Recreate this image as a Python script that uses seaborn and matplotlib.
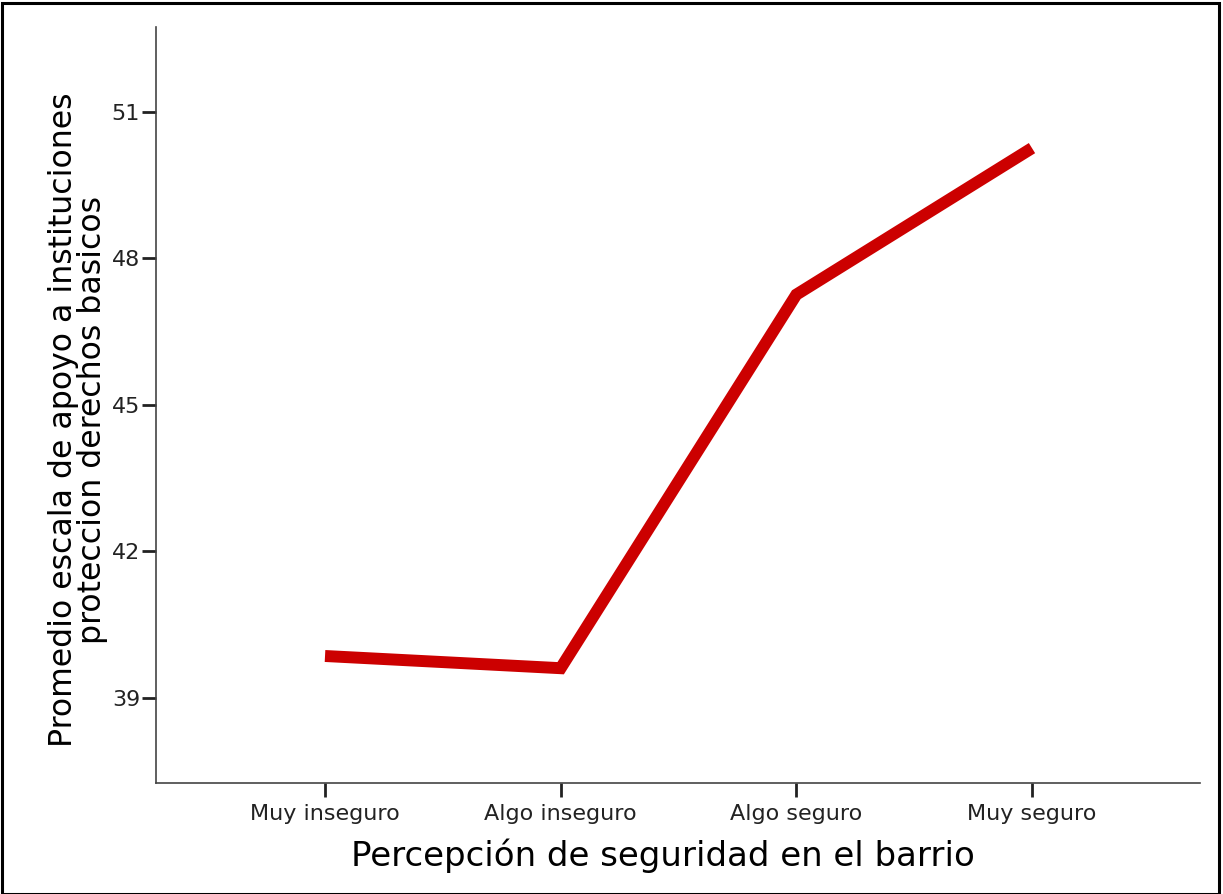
import pandas as pd
import seaborn as sns
import matplotlib.pyplot as plt
from matplotlib.patches import Rectangle

sns.set_theme(style="ticks")
plt.rcParams["font.family"] = ["DejaVu Sans"]

categories = ["Muy inseguro", "Algo inseguro", "Algo seguro", "Muy seguro"]
means = [39.86, 39.61, 47.26, 50.26]
y_ticks = [39, 42, 45, 48, 51]

df = pd.DataFrame({"cat": categories, "mean": means})
df["pos"] = range(len(categories))

fig = plt.figure(figsize=(12.23, 8.94), dpi=100)
ax = fig.add_axes([0.1276, 0.1242, 0.8536, 0.8456])

sns.lineplot(data=df, x="pos", y="mean", color="#cc0000", linewidth=8.6,
             ax=ax, solid_capstyle="butt", solid_joinstyle="miter")

ax.set_xlim(-0.717, 3.713)
ax.set_ylim(37.26, 52.74)
ax.set_xticks(df["pos"])
ax.set_xticklabels(categories)
ax.set_yticks(y_ticks)
ax.set_yticklabels([str(t) for t in y_ticks])

ax.tick_params(axis="both", direction="out", length=10, width=2,
               color="#222222", labelsize=16, labelcolor="#222222")
ax.tick_params(axis="y", pad=1.5)
ax.tick_params(axis="x", pad=5)
for side in ["top", "right"]:
    ax.spines[side].set_visible(False)
for side in ["left", "bottom"]:
    ax.spines[side].set_color("#444444")
    ax.spines[side].set_linewidth(1.2)

ax.set_xlabel("Percepción de seguridad en el barrio", fontsize=24.5,
              color="black")
ax.xaxis.set_label_coords(0.486, -0.073)
ax.set_ylabel("Promedio escala de apoyo a instituciones\nproteccion derechos basicos",
              fontsize=22.7, color="black", linespacing=0.93)
ax.yaxis.set_label_coords(-0.046, 0.48)

# outer frame
fig.patches.append(Rectangle((0.002, 0.0), 0.995, 0.997, transform=fig.transFigure,
                             fill=False, edgecolor="black", linewidth=2.2))

plt.savefig("out.png", dpi=100)
